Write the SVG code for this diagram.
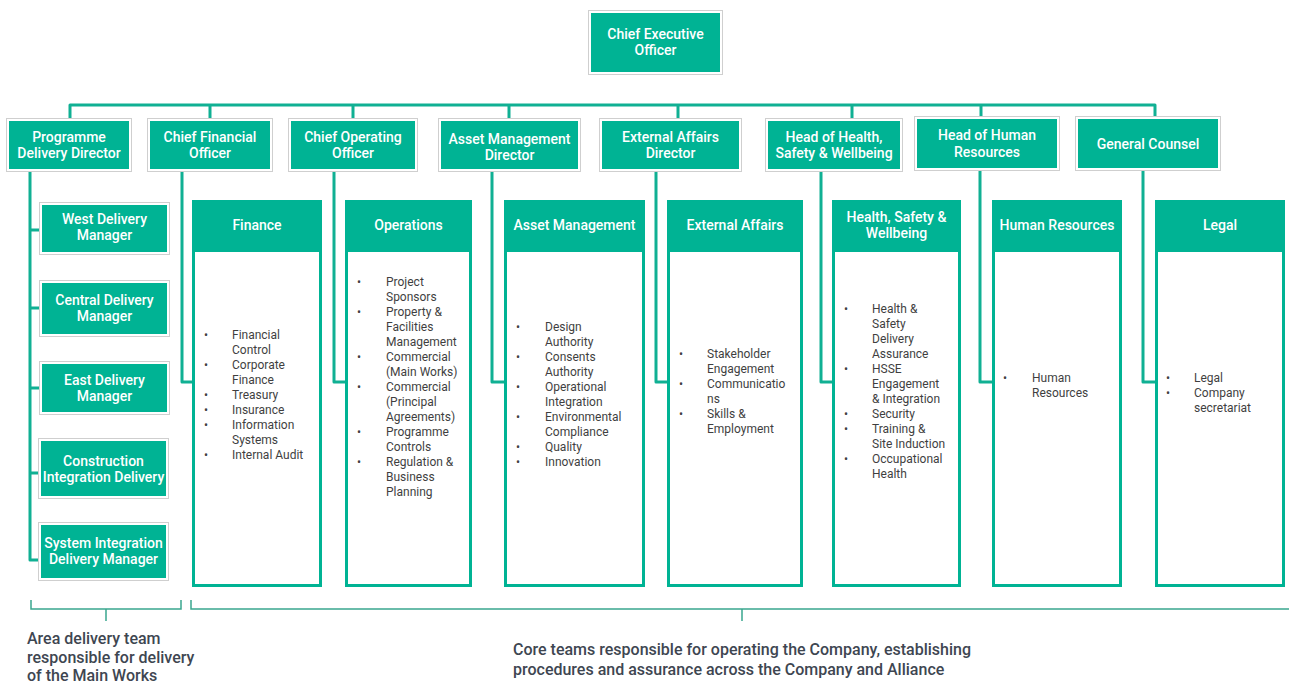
<svg xmlns="http://www.w3.org/2000/svg" width="1289" height="686" viewBox="0 0 1289 686">
<style>
.bg{fill:#ffffff}
.ob{fill:#ffffff;stroke:#cfcfcf;stroke-width:1}
.tf{fill:#00b394}
.ht{font-family:Roboto,"Liberation Sans",sans-serif;font-weight:500;font-size:14px;fill:#ffffff;text-anchor:middle}
.dept{fill:#ffffff;stroke:#00b394;stroke-width:3}
.bt{font-family:Roboto,"Liberation Sans",sans-serif;font-size:12px;fill:#3f3f3f}
.con{fill:none;stroke:#10b093;stroke-width:3;stroke-linejoin:round}
.brace{fill:none;stroke:#3aa78f;stroke-width:1.5}
.note{font-family:Roboto,"Liberation Sans",sans-serif;font-weight:500;font-size:16px;fill:#3e4651}
</style>
<rect class="bg" x="0" y="0" width="1289" height="686"/>

<g id="connectors">
  <path class="con" d="M70,118 V105 H1155 V118"/>
  <path class="con" d="M210,105 V118 M353,105 V118 M509,105 V118 M678,105 V118 M852,105 V118 M981,105 V116"/>
  <path class="con" d="M30,172 V560 H39 M30,230 H39 M30,308 H39 M30,388 H39 M30,473 H38"/>
  <path class="con" d="M182,172 V382 H192"/>
  <path class="con" d="M334,172 V382 H345"/>
  <path class="con" d="M492,172 V382 H504"/>
  <path class="con" d="M656,172 V382 H667"/>
  <path class="con" d="M821,172 V382 H832"/>
  <path class="con" d="M980,171 V382 H992"/>
  <path class="con" d="M1143,171 V382 H1155"/>
</g>

<g id="ceo">
  <rect class="ob" x="588.5" y="10.5" width="134" height="64"/>
  <rect class="tf" x="591" y="13" width="129" height="59"/>
  <text class="ht" x="655.5" y="39">Chief Executive</text>
  <text class="ht" x="655.5" y="55">Officer</text>
</g>

<g id="programme-delivery-director">
  <rect class="ob" x="6.5" y="118.5" width="125" height="53"/>
  <rect class="tf" x="9" y="121" width="120" height="48"/>
  <text class="ht" x="69" y="142">Programme</text>
  <text class="ht" x="69" y="158">Delivery Director</text>
</g>
<g id="cfo">
  <rect class="ob" x="147.5" y="118.5" width="125" height="53"/>
  <rect class="tf" x="150" y="121" width="120" height="48"/>
  <text class="ht" x="210" y="142">Chief Financial</text>
  <text class="ht" x="210" y="158">Officer</text>
</g>
<g id="coo">
  <rect class="ob" x="288.5" y="118.5" width="129" height="53"/>
  <rect class="tf" x="291" y="121" width="124" height="48"/>
  <text class="ht" x="353" y="142">Chief Operating</text>
  <text class="ht" x="353" y="158">Officer</text>
</g>
<g id="asset-management-director">
  <rect class="ob" x="438.5" y="118.5" width="142" height="53"/>
  <rect class="tf" x="441" y="121" width="137" height="48"/>
  <text class="ht" x="509.5" y="144">Asset Management</text>
  <text class="ht" x="509.5" y="160">Director</text>
</g>
<g id="external-affairs-director">
  <rect class="ob" x="599.5" y="118.5" width="142" height="53"/>
  <rect class="tf" x="602" y="121" width="137" height="48"/>
  <text class="ht" x="670.5" y="142">External Affairs</text>
  <text class="ht" x="670.5" y="158">Director</text>
</g>
<g id="head-hsw">
  <rect class="ob" x="765.5" y="118.5" width="137" height="53"/>
  <rect class="tf" x="768" y="121" width="132" height="48"/>
  <text class="ht" x="834" y="142">Head of Health,</text>
  <text class="ht" x="834" y="158">Safety &amp; Wellbeing</text>
</g>
<g id="head-hr">
  <rect class="ob" x="914.5" y="116.5" width="145" height="54"/>
  <rect class="tf" x="917" y="119" width="140" height="49"/>
  <text class="ht" x="987" y="140">Head of Human</text>
  <text class="ht" x="987" y="157">Resources</text>
</g>
<g id="general-counsel">
  <rect class="ob" x="1075.5" y="116.5" width="145" height="54"/>
  <rect class="tf" x="1078" y="119" width="140" height="49"/>
  <text class="ht" x="1148" y="149">General Counsel</text>
</g>

<g id="west-delivery-manager">
  <rect class="ob" x="39.5" y="202.5" width="130" height="52"/>
  <rect class="tf" x="42" y="205" width="125" height="47"/>
  <text class="ht" x="104.5" y="224">West Delivery</text>
  <text class="ht" x="104.5" y="240">Manager</text>
</g>
<g id="central-delivery-manager">
  <rect class="ob" x="39.5" y="280.5" width="130" height="56"/>
  <rect class="tf" x="42" y="283" width="125" height="51"/>
  <text class="ht" x="104.5" y="305">Central Delivery</text>
  <text class="ht" x="104.5" y="321">Manager</text>
</g>
<g id="east-delivery-manager">
  <rect class="ob" x="39.5" y="361.5" width="130" height="53"/>
  <rect class="tf" x="42" y="364" width="125" height="48"/>
  <text class="ht" x="104.5" y="385">East Delivery</text>
  <text class="ht" x="104.5" y="401">Manager</text>
</g>
<g id="construction-integration-delivery">
  <rect class="ob" x="38.5" y="438.5" width="130" height="60"/>
  <rect class="tf" x="41" y="441" width="125" height="55"/>
  <text class="ht" x="103.5" y="466">Construction</text>
  <text class="ht" x="103.5" y="482">Integration Delivery</text>
</g>
<g id="system-integration-delivery-manager">
  <rect class="ob" x="38.5" y="522.5" width="130" height="58"/>
  <rect class="tf" x="41" y="525" width="125" height="53"/>
  <text class="ht" x="103.5" y="548">System Integration</text>
  <text class="ht" x="103.5" y="564">Delivery Manager</text>
</g>

<g id="finance">
  <rect class="dept" x="193.5" y="201.5" width="127" height="384"/>
  <rect class="tf" x="192" y="200" width="130" height="52"/>
  <text class="ht" x="257" y="230">Finance</text>
  <g class="bt">
    <text x="204" y="339">•</text><text x="232" y="339">Financial</text>
    <text x="232" y="354">Control</text>
    <text x="204" y="369">•</text><text x="232" y="369">Corporate</text>
    <text x="232" y="384">Finance</text>
    <text x="204" y="399">•</text><text x="232" y="399">Treasury</text>
    <text x="204" y="414">•</text><text x="232" y="414">Insurance</text>
    <text x="204" y="429">•</text><text x="232" y="429">Information</text>
    <text x="232" y="444">Systems</text>
    <text x="204" y="459">•</text><text x="232" y="459">Internal Audit</text>
  </g>
</g>

<g id="operations">
  <rect class="dept" x="346.5" y="201.5" width="124" height="384"/>
  <rect class="tf" x="345" y="200" width="127" height="52"/>
  <text class="ht" x="408.5" y="230">Operations</text>
  <g class="bt">
    <text x="357" y="286">•</text><text x="386" y="286">Project</text>
    <text x="386" y="301">Sponsors</text>
    <text x="357" y="316">•</text><text x="386" y="316">Property &amp;</text>
    <text x="386" y="331">Facilities</text>
    <text x="386" y="346">Management</text>
    <text x="357" y="361">•</text><text x="386" y="361">Commercial</text>
    <text x="386" y="376">(Main Works)</text>
    <text x="357" y="391">•</text><text x="386" y="391">Commercial</text>
    <text x="386" y="406">(Principal</text>
    <text x="386" y="421">Agreements)</text>
    <text x="357" y="436">•</text><text x="386" y="436">Programme</text>
    <text x="386" y="451">Controls</text>
    <text x="357" y="466">•</text><text x="386" y="466">Regulation &amp;</text>
    <text x="386" y="481">Business</text>
    <text x="386" y="496">Planning</text>
  </g>
</g>

<g id="asset-management">
  <rect class="dept" x="505.5" y="201.5" width="138" height="384"/>
  <rect class="tf" x="504" y="200" width="141" height="52"/>
  <text class="ht" x="574.5" y="230">Asset Management</text>
  <g class="bt">
    <text x="516" y="331">•</text><text x="545" y="331">Design</text>
    <text x="545" y="346">Authority</text>
    <text x="516" y="361">•</text><text x="545" y="361">Consents</text>
    <text x="545" y="376">Authority</text>
    <text x="516" y="391">•</text><text x="545" y="391">Operational</text>
    <text x="545" y="406">Integration</text>
    <text x="516" y="421">•</text><text x="545" y="421">Environmental</text>
    <text x="545" y="436">Compliance</text>
    <text x="516" y="451">•</text><text x="545" y="451">Quality</text>
    <text x="516" y="466">•</text><text x="545" y="466">Innovation</text>
  </g>
</g>

<g id="external-affairs">
  <rect class="dept" x="668.5" y="201.5" width="133" height="384"/>
  <rect class="tf" x="667" y="200" width="136" height="52"/>
  <text class="ht" x="735" y="230">External Affairs</text>
  <g class="bt">
    <text x="679" y="358">•</text><text x="707" y="358">Stakeholder</text>
    <text x="707" y="373">Engagement</text>
    <text x="679" y="388">•</text><text x="707" y="388">Communicatio</text>
    <text x="707" y="403">ns</text>
    <text x="679" y="418">•</text><text x="707" y="418">Skills &amp;</text>
    <text x="707" y="433">Employment</text>
  </g>
</g>

<g id="health-safety-wellbeing">
  <rect class="dept" x="833.5" y="201.5" width="126" height="384"/>
  <rect class="tf" x="832" y="200" width="129" height="52"/>
  <text class="ht" x="896.5" y="222">Health, Safety &amp;</text>
  <text class="ht" x="896.5" y="238">Wellbeing</text>
  <g class="bt">
    <text x="844" y="313">•</text><text x="872" y="313">Health &amp;</text>
    <text x="872" y="328">Safety</text>
    <text x="872" y="343">Delivery</text>
    <text x="872" y="358">Assurance</text>
    <text x="844" y="373">•</text><text x="872" y="373">HSSE</text>
    <text x="872" y="388">Engagement</text>
    <text x="872" y="403">&amp; Integration</text>
    <text x="844" y="418">•</text><text x="872" y="418">Security</text>
    <text x="844" y="433">•</text><text x="872" y="433">Training &amp;</text>
    <text x="872" y="448">Site Induction</text>
    <text x="844" y="463">•</text><text x="872" y="463">Occupational</text>
    <text x="872" y="478">Health</text>
  </g>
</g>

<g id="human-resources">
  <rect class="dept" x="993.5" y="201.5" width="127" height="384"/>
  <rect class="tf" x="992" y="200" width="130" height="52"/>
  <text class="ht" x="1057" y="230">Human Resources</text>
  <g class="bt">
    <text x="1003" y="382">•</text><text x="1032" y="382">Human</text>
    <text x="1032" y="397">Resources</text>
  </g>
</g>

<g id="legal">
  <rect class="dept" x="1156.5" y="201.5" width="127" height="384"/>
  <rect class="tf" x="1155" y="200" width="130" height="52"/>
  <text class="ht" x="1220" y="230">Legal</text>
  <g class="bt">
    <text x="1166" y="382">•</text><text x="1194" y="382">Legal</text>
    <text x="1166" y="397">•</text><text x="1194" y="397">Company</text>
    <text x="1194" y="412">secretariat</text>
  </g>
</g>

<g id="area-delivery-brace">
  <path class="brace" d="M31,600 V609 H181 V600 M106,609 V621"/>
  <text class="note" x="27" y="644">Area delivery team</text>
  <text class="note" x="27" y="663">responsible for delivery</text>
  <text class="note" x="27" y="681">of the Main Works</text>
</g>

<g id="core-teams-brace">
  <path class="brace" d="M191,600 V609 H1289 M742,609 V621"/>
  <text class="note" x="513" y="655">Core teams responsible for operating the Company, establishing</text>
  <text class="note" x="513" y="675">procedures and assurance across the Company and Alliance</text>
</g>
</svg>
